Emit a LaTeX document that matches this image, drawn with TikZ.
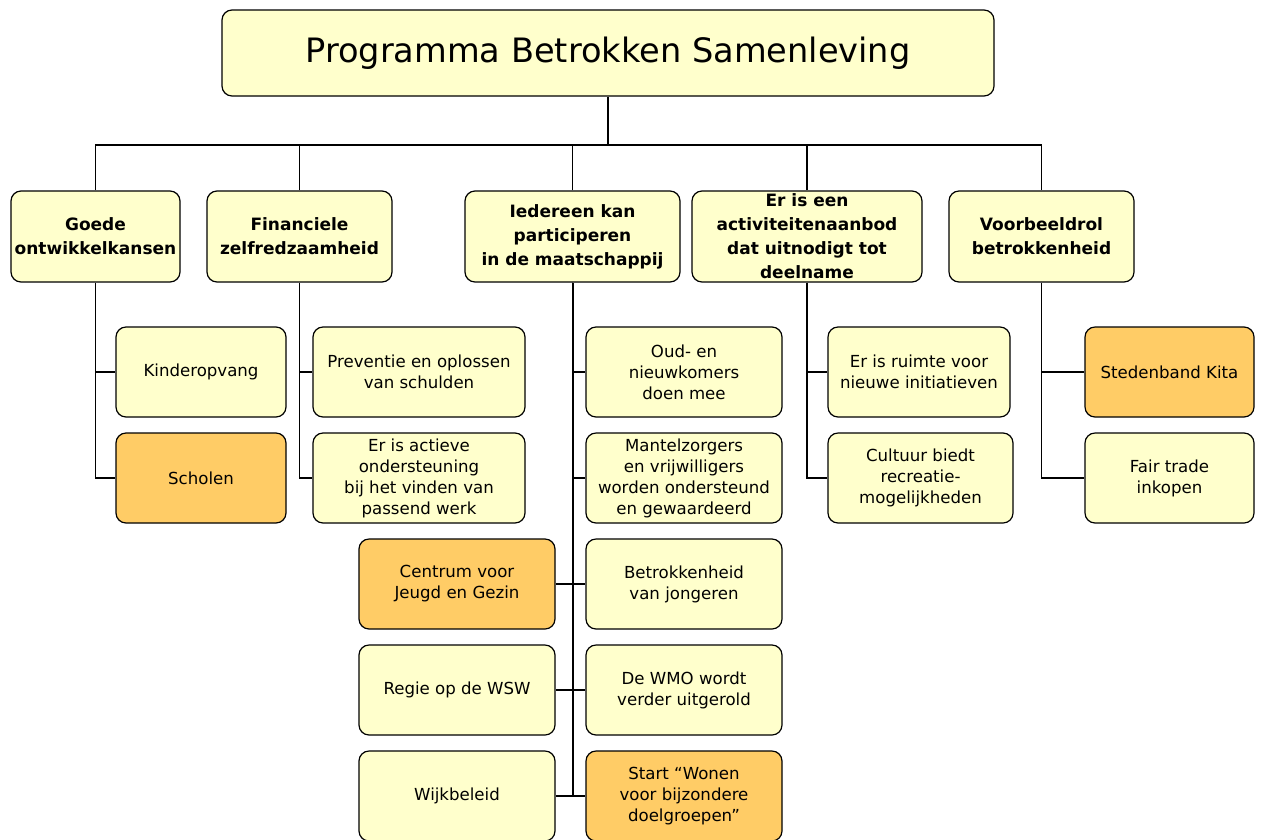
\documentclass[tikz,border=0pt]{standalone}
\usepackage{fontspec}
\setmainfont{DejaVu Sans}
\usepackage{xcolor}
\usepackage{tikz}

\definecolor{paleyellow}{HTML}{FFFFCC}
\definecolor{softorange}{HTML}{FFCC66}

\begin{document}
\begin{tikzpicture}[x=1pt, y=-1pt,
    box/.style={draw, rectangle, rounded corners=10pt, line width=1.2pt, fill=paleyellow, align=center, inner sep=2pt},
    goal/.style={box, minimum height=91pt, font=\fontsize{17}{24}\selectfont\bfseries},
    task/.style={box, minimum height=90pt, font=\fontsize{16.6}{21}\selectfont},
    hot/.style={fill=softorange},
    link/.style={line width=1.2pt}]
            \useasboundingbox (0,0) rectangle (1263,839);

            % top
            \node[box, minimum width=772pt, minimum height=86pt, font=\fontsize{33.6}{40}\selectfont] (title) at (608,53) {Programma Betrokken Samenleving};

            % goals
            \node[goal, minimum width=169pt] (goede) at (95.5,236.5) {Goede\\ontwikkelkansen};
            \node[goal, minimum width=185pt] (fin) at (299.5,236.5) {Financiele\\zelfredzaamheid};
            \node[goal, minimum width=215pt] (ieder) at (572.5,236.5) {Iedereen kan\\participeren\\in de maatschappij};
            \node[goal, minimum width=230pt, inner ysep=-3pt] (aanbod) at (807,236.5) {Er is een\\activiteitenaanbod\\dat uitnodigt tot\\deelname};
            \node[goal, minimum width=185pt] (voorbeeld) at (1041.5,236.5) {Voorbeeldrol\\betrokkenheid};

            % tasks
            \node[task, minimum width=170pt] (kinder) at (201,372) {Kinderopvang};
            \node[task, hot, minimum width=170pt] (scholen) at (201,478) {Scholen};

            \node[task, minimum width=212pt] (preventie) at (419,372) {Preventie en oplossen\\van schulden};
            \node[task, minimum width=212pt] (werk) at (419,478) {Er is actieve\\ondersteuning\\bij het vinden van\\passend werk};

            \node[task, minimum width=196pt] (oud) at (684,372) {Oud- en\\nieuwkomers\\doen mee};
            \node[task, minimum width=196pt] (mantel) at (684,478) {Mantelzorgers\\en vrijwilligers\\worden ondersteund\\en gewaardeerd};
            \node[task, minimum width=196pt] (jongeren) at (684,584) {Betrokkenheid\\van jongeren};
            \node[task, minimum width=196pt] (wmo) at (684,690) {De WMO wordt\\verder uitgerold};
            \node[task, hot, minimum width=196pt] (wonen) at (684,796) {Start “Wonen\\voor bijzondere\\doelgroepen”};

            \node[task, hot, minimum width=196pt] (centrum) at (457,584) {Centrum voor\\Jeugd en Gezin};
            \node[task, minimum width=196pt] (wsw) at (457,690) {Regie op de WSW};
            \node[task, minimum width=196pt] (wijk) at (457,796) {Wijkbeleid};

            \node[task, minimum width=182pt] (ruimte) at (919,372) {Er is ruimte voor\\nieuwe initiatieven};
            \node[task, minimum width=185pt] (cultuur) at (920.5,478) {Cultuur biedt\\recreatie-\\mogelijkheden};

            \node[task, hot, minimum width=169pt] (kita) at (1169.5,372) {Stedenband Kita};
            \node[task, minimum width=169pt] (fair) at (1169.5,478) {Fair trade\\inkopen};

            % bus
            \coordinate (bus) at (608,145);
            \draw[line width=1.6pt] (title.south) -- (title.south |- bus);
            \draw[link] (goede.north) -- (goede.north |- bus) -- (voorbeeld.north |- bus) -- (voorbeeld.north);
            \foreach \n in {fin,ieder,aanbod}
                \draw[link] (\n.north) -- (\n.north |- bus);

            % branches
            \foreach \n in {kinder,scholen}
                \draw[link] (goede.south) |- (\n.west);
            \foreach \n in {preventie,werk}
                \draw[link] (fin.south) |- (\n.west);
            \foreach \n in {oud,mantel,jongeren,wmo,wonen}
                \draw[link] (ieder.south) |- (\n.west);
            \foreach \n in {centrum,wsw,wijk}
                \draw[link] (ieder.south) |- (\n.east);
            \draw[line width=2pt] (ieder.south) -- (ieder.south |- wonen.west);
            \foreach \n in {ruimte,cultuur}
                \draw[link] (aanbod.south) |- (\n.west);
            \foreach \n in {kita,fair}
                \draw[link] (voorbeeld.south) |- (\n.west);
        \end{tikzpicture}
\end{document}
